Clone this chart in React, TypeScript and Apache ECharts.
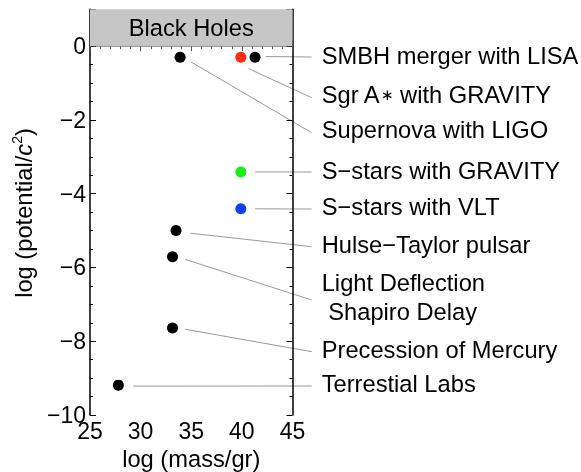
import React, { useEffect, useRef } from 'react';
import * as echarts from 'echarts';

// ---- data ----
const experiments = [
  'SMBH merger with LISA',
  'Sgr A∗ with GRAVITY',
  'Supernova with LIGO',
  'S−stars with GRAVITY',
  'S−stars with VLT',
  'Hulse−Taylor pulsar',
  'Light Deflection\n Shapiro Delay',
  'Precession of Mercury',
  'Terrestial Labs',
];
const logMass = [41.3, 39.9, 33.9, 39.9, 39.9, 33.5, 33.15, 33.15, 27.8];
const logPotential = [-0.3, -0.3, -0.3, -3.41, -4.41, -5.0, -5.71, -7.64, -9.19];
const dotColors = ['#000000', '#ff2a10', '#000000', '#1aee1a', '#1040ff', '#000000', '#000000', '#000000', '#000000'];
const regionLabel = 'Black Holes';
const regionRange = [0, 1];
const xTitle = 'log (mass/gr)';
const yTitle = 'log (potential/{i|c}{s|2})';

// ---- layout (pixels) ----
const labelX = 321.7;
const labelY = [55.7, 95.3, 129.7, 171.3, 207.3, 245.3, 297.8, 350, 384];
const lineEndX = 311.7;
const lineEndY = [57, 97.7, 132.7, 172, 209, 246.7, 300, 351.7, 386];
const lineStartOffset = [
  [11, -0.7], [7.6, 11.3], [10.7, 4.6], [14.3, 0], [14.3, 0],
  [14.3, 2.6], [12.7, 2.6], [12.7, 1.3], [15, 1],
];

const FONT = '"Liberation Sans", Arial, Helvetica, sans-serif';
const FS = 23.7;
const TICK_FS = 23;
const minus = (v: number) => String(v).replace('-', '−');

export default function App() {
  const ref = useRef<HTMLDivElement>(null);
  useEffect(() => {
    if (!ref.current) return;
    const chart = echarts.init(ref.current, undefined, { renderer: 'svg' });
    const axisLine = { show: true, lineStyle: { color: '#000', width: 1.5 } };
    const points = logMass.map((x, i) => ({
      value: [x, logPotential[i]],
      name: experiments[i],
      itemStyle: { color: dotColors[i], opacity: 1 },
    }));
    chart.setOption({
      animation: false,
      textStyle: { fontFamily: FONT },
      grid: {
        left: 90, top: 9.3, right: 288.5, bottom: 57,
        containLabel: false, outerBoundsMode: 'none',
      },
      xAxis: [
        {
          type: 'value', min: 25, max: 45, interval: 5, position: 'bottom',
          axisLine, splitLine: { show: false },
          axisTick: { inside: true, length: 6, lineStyle: { color: '#000', width: 1 } },
          minorTick: { show: true, splitNumber: 5, length: 3, lineStyle: { color: '#000', width: 1 } },
          axisLabel: { fontSize: TICK_FS, color: '#000', margin: 4, fontFamily: FONT },
          name: xTitle, nameLocation: 'middle', nameGap: 32,
          nameTextStyle: { fontSize: FS, color: '#000', fontFamily: FONT, lineHeight: 24 },
        },
        {
          type: 'value', min: 25, max: 45, interval: 5, position: 'top',
          axisLine: { show: true, lineStyle: { color: '#888', width: 1 } }, splitLine: { show: false },
          axisTick: { inside: true, length: 5, lineStyle: { color: '#555', width: 1 } },
          minorTick: { show: true, splitNumber: 5, length: 3, lineStyle: { color: '#555', width: 1 } },
          axisLabel: { show: false },
        },
      ],
      yAxis: [
        {
          type: 'value', min: -10, max: 1, interval: 2, position: 'left',
          axisLine, splitLine: { show: false },
          axisTick: { inside: true, length: 6, lineStyle: { color: '#000', width: 1 } },
          minorTick: { show: true, splitNumber: 4, length: 3, lineStyle: { color: '#000', width: 1 } },
          axisLabel: {
            fontSize: TICK_FS, color: '#000', margin: 4, fontFamily: FONT,
            formatter: (v: number) => (v > 0 ? '' : minus(v)),
          },
        },
        {
          type: 'value', min: -10, max: 1, interval: 2, position: 'right',
          axisLine, splitLine: { show: false },
          axisTick: { inside: true, length: 6, lineStyle: { color: '#000', width: 1 } },
          minorTick: { show: true, splitNumber: 4, length: 3, lineStyle: { color: '#000', width: 1 } },
          axisLabel: { show: false },
        },
      ],
      series: [
        {
          type: 'scatter', data: [], xAxisIndex: 0, yAxisIndex: 0, z: 0,
          markArea: {
            silent: true,
            itemStyle: { color: '#c6c6c6', opacity: 1 },
            label: { show: true, position: 'inside', color: '#000', fontSize: FS, fontFamily: FONT },
            data: [[{ yAxis: regionRange[0], name: regionLabel }, { yAxis: regionRange[1] }]],
          },
        },
        {
          type: 'scatter', data: points, xAxisIndex: 0, yAxisIndex: 0,
          symbolSize: 11, z: 5, itemStyle: { opacity: 1 },
        },
      ],
    });

    const graphics: any[] = [];
    logMass.forEach((x, i) => {
      const p = chart.convertToPixel({ gridIndex: 0 }, [x, logPotential[i]]) as number[];
      graphics.push({
        type: 'line', silent: true,
        shape: { x1: p[0] + lineStartOffset[i][0], y1: p[1] + lineStartOffset[i][1], x2: lineEndX, y2: lineEndY[i] },
        style: { stroke: '#9a9a9a', lineWidth: 1 },
      });
      graphics.push({
        type: 'text', silent: true, x: labelX, y: labelY[i],
        style: {
          text: experiments[i].replace('∗', '{a|∗}'),
          fill: '#000', fontSize: FS, fontFamily: FONT, lineHeight: 29,
          align: 'left', verticalAlign: 'middle', textAlign: 'left', textVerticalAlign: 'middle',
          rich: { a: { fontSize: 15, fill: '#000', fontFamily: 'DejaVu Sans', lineHeight: 29 } },
        },
      });
    });
    graphics.push({
      type: 'text', silent: true, x: 23.5, y: 213, rotation: Math.PI / 2,
      style: {
        text: yTitle, fill: '#000', fontSize: FS, fontFamily: FONT, lineHeight: 28,
        align: 'center', verticalAlign: 'middle', textAlign: 'center', textVerticalAlign: 'middle',
        rich: {
          i: { fontSize: FS, fontStyle: 'italic', fill: '#000', fontFamily: FONT, lineHeight: 28 },
          s: { fontSize: 14, fill: '#000', fontFamily: FONT, verticalAlign: 'top', lineHeight: 14 },
        },
      },
    });
    chart.setOption({ graphic: graphics });
    return () => chart.dispose();
  }, []);
  return <div ref={ref} style={{ position: 'fixed', left: 0, top: 0, width: 581, height: 472 }} />;
}
